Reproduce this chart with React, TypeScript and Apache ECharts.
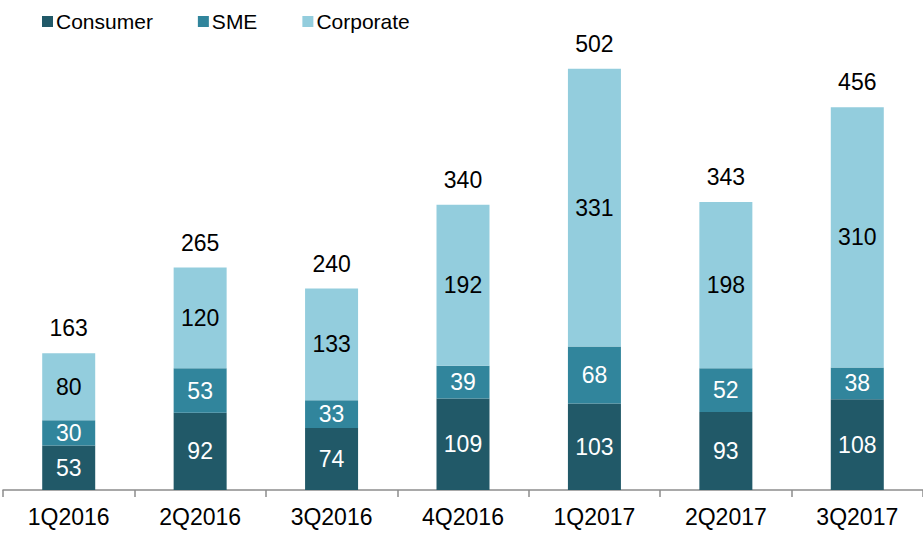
import React, { useEffect, useRef } from "react";
import * as echarts from "echarts";

const categories = ["1Q2016", "2Q2016", "3Q2016", "4Q2016", "1Q2017", "2Q2017", "3Q2017"];
const consumer = [53, 92, 74, 109, 103, 93, 108];
const sme = [30, 53, 33, 39, 68, 52, 38];
const corporate = [80, 120, 133, 192, 331, 198, 310];
const totals = [163, 265, 240, 340, 502, 343, 456];

const FONT = "'Liberation Sans', Arial, sans-serif";

export default function App() {
  const ref = useRef<HTMLDivElement>(null);
  useEffect(() => {
    if (!ref.current) return;
    const chart = echarts.init(ref.current, undefined, { renderer: "svg" });
    const segLabel = (color: string) => ({
      show: true,
      position: "inside" as const,
      color,
      fontSize: 23,
      fontFamily: FONT,
    });
    chart.setOption({
      animation: false,
      backgroundColor: "#ffffff",
      textStyle: { fontFamily: FONT },
      legend: {
        left: 37,
        top: 6,
        itemWidth: 11,
        itemHeight: 11,
        itemGap: 45,
        icon: "rect",
        textStyle: { fontSize: 21, color: "#000", fontFamily: FONT, padding: [0, 0, 0, -2] },
        data: ["Consumer", "SME", "Corporate"],
      },
      grid: { left: 3, right: 0, top: 20, bottom: 43, containLabel: false },
      xAxis: {
        type: "category",
        data: categories,
        axisLine: { lineStyle: { color: "#8c8c8c", width: 1.5 } },
        axisTick: { show: true, length: 7, lineStyle: { color: "#8c8c8c", width: 1.5 } },
        axisLabel: { color: "#000", fontSize: 23, fontFamily: FONT, margin: 15 },
      },
      yAxis: {
        type: "value",
        min: 0,
        max: 560,
        show: false,
        splitLine: { show: false },
      },
      series: [
        {
          name: "Consumer",
          type: "bar",
          stack: "s",
          barWidth: 53,
          data: consumer,
          itemStyle: { color: "#215968" },
          label: segLabel("#ffffff"),
        },
        {
          name: "SME",
          type: "bar",
          stack: "s",
          barWidth: 53,
          data: sme,
          itemStyle: { color: "#31859c" },
          label: segLabel("#ffffff"),
        },
        {
          name: "Corporate",
          type: "bar",
          stack: "s",
          barWidth: 53,
          data: corporate,
          itemStyle: { color: "#93cddd" },
          label: segLabel("#000000"),
        },
        {
          name: "Total",
          type: "line",
          data: totals,
          symbol: "circle",
          symbolSize: 1,
          showSymbol: true,
          itemStyle: { color: "rgba(0,0,0,0)" },
          lineStyle: { color: "rgba(0,0,0,0)", width: 0 },
          label: {
            show: true,
            position: "top",
            distance: 13,
            color: "#000",
            fontSize: 23,
            fontFamily: FONT,
          },
          tooltip: { show: false },
        },
      ],
    });
    return () => chart.dispose();
  }, []);
  return (
    <div
      ref={ref}
      style={{ position: "fixed", left: 0, top: 0, width: 923, height: 533 }}
    />
  );
}
